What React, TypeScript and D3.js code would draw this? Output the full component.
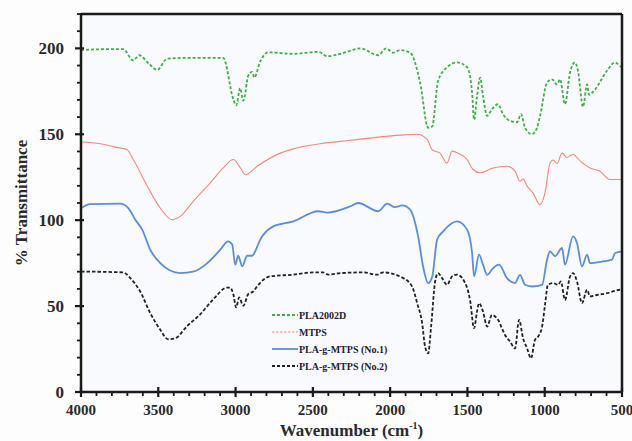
import React from "react";
import * as d3 from "d3";

const W = 632;
const H = 441;

// Series: [wavenumber, % transmittance]
const pla2002dWn = [4000, 3850, 3727, 3662, 3623, 3560, 3507, 3442, 3300, 3080, 3015, 2996, 2970, 2950, 2918, 2892, 2879, 2840, 2789, 2627, 2465, 2407, 2323, 2259, 2194, 2077, 2026, 1981, 1935, 1871, 1806, 1754, 1728, 1690, 1632, 1567, 1502, 1470, 1457, 1438, 1418, 1399, 1373, 1341, 1302, 1270, 1224, 1179, 1153, 1127, 1082, 1050, 1030, 985, 953, 920, 901, 869, 836, 804, 785, 752, 726, 713, 675, 597, 545, 513, 500];
const pla2002dT = [199, 199.5, 199.5, 193, 196, 191, 187.5, 194, 194.5, 194.5, 170.5, 166.8, 176.8, 169.5, 184, 186.3, 183, 192.5, 197.7, 196.8, 198, 195.5, 196.8, 198.5, 200, 196, 200, 197.5, 199, 197.5, 180, 153.8, 154.5, 181, 189, 191.8, 189, 174.5, 158.5, 172, 183, 172.3, 160.7, 164.6, 167.5, 161.7, 157.8, 157, 161.7, 153.8, 150, 153.8, 160.7, 180, 182, 179, 182, 167.5, 186, 191.8, 187, 166, 179, 173, 176, 187, 191.8, 189.8, 189];

const mtpsWn = [4000, 3875, 3778, 3701, 3662, 3571, 3487, 3410, 3358, 3274, 3164, 3080, 3015, 2970, 2937, 2860, 2730, 2627, 2453, 2259, 2065, 1935, 1825, 1761, 1728, 1677, 1632, 1599, 1561, 1502, 1463, 1418, 1334, 1244, 1192, 1160, 1140, 1114, 1076, 1030, 998, 966, 946, 920, 888, 856, 817, 772, 707, 643, 578, 513, 500];
const mtpsT = [145.5, 144.5, 142.5, 141, 135.3, 119.8, 107, 100.3, 102.2, 111, 121.7, 130.4, 135.3, 130.6, 126.5, 131.4, 138.3, 141.5, 144.5, 146.5, 148.5, 149.5, 150, 147, 141, 139, 133.2, 140.2, 139, 135.3, 129.5, 127.6, 130.4, 131.4, 128.5, 122.6, 124, 119.8, 115.9, 109, 116, 133.2, 135, 133, 139, 136.5, 138.4, 134.5, 130.4, 128.5, 123.7, 123.7, 123.5];

const no1Wn = [4000, 3940, 3746, 3694, 3649, 3604, 3552, 3487, 3358, 3274, 3183, 3099, 3048, 3022, 3002, 2983, 2957, 2925, 2892, 2873, 2840, 2756, 2627, 2465, 2407, 2259, 2207, 2077, 2019, 1968, 1922, 1871, 1819, 1787, 1754, 1728, 1696, 1657, 1567, 1502, 1470, 1457, 1425, 1399, 1373, 1334, 1295, 1244, 1192, 1160, 1127, 1082, 1017, 985, 966, 933, 888, 869, 817, 791, 759, 726, 707, 623, 565, 545, 500];
const no1T = [107, 109.4, 109.6, 107, 100.3, 94.5, 82.8, 75, 69.2, 70, 75, 82.8, 87.7, 85.8, 74.1, 79.3, 73.1, 79.3, 79.3, 81.9, 88.7, 96.4, 99.3, 105.2, 104.4, 108, 110, 105.2, 109.6, 107.6, 108.6, 106.2, 90.6, 73.1, 63.4, 67, 88.7, 93.5, 99.3, 94.5, 80.9, 67.3, 79.9, 74.1, 68.2, 72.1, 74.1, 66.3, 63.4, 68.2, 62.4, 61.4, 62.4, 77, 81.9, 79, 83.8, 74.1, 90.6, 86.7, 73.1, 79.9, 75, 76, 77, 80.9, 81.9];

const no2Wn = [4000, 3727, 3681, 3617, 3552, 3487, 3436, 3390, 3313, 3229, 3145, 3054, 3035, 3015, 2996, 2977, 2950, 2918, 2886, 2853, 2776, 2627, 2498, 2433, 2401, 2323, 2175, 2084, 2045, 1916, 1858, 1825, 1793, 1774, 1754, 1735, 1709, 1690, 1664, 1632, 1599, 1567, 1515, 1483, 1457, 1438, 1425, 1399, 1373, 1341, 1302, 1257, 1224, 1192, 1166, 1140, 1114, 1089, 1063, 1043, 1017, 998, 979, 946, 914, 895, 869, 836, 817, 791, 759, 726, 707, 655, 597, 559, 513, 500];
const no2T = [70.1, 69.6, 66.3, 58.5, 45.9, 36.2, 30.7, 31.3, 38.4, 45.2, 53.9, 60.8, 60.8, 57, 49.2, 55, 50.2, 57, 58.5, 62.4, 67.3, 68.3, 69.6, 69.6, 68.3, 69.2, 69.6, 68.3, 69.6, 66.3, 61.4, 51.7, 40.1, 26.4, 22.5, 38.1, 64.3, 69.2, 66.3, 62.4, 67.3, 68.3, 63.4, 53.6, 37.1, 46.8, 51.7, 46.8, 38.1, 44.8, 42, 33.2, 29.3, 25.4, 42, 31.3, 25.4, 19.6, 30.3, 32.2, 38.1, 50.8, 62.4, 63.4, 62.4, 64.3, 53.6, 67.3, 69.2, 64.3, 51.7, 59.5, 55.6, 56.6, 57.5, 58.5, 59.5, 59.5];

const seriesNames = ["PLA2002D", "MTPS", "PLA-g-MTPS (No.1)", "PLA-g-MTPS (No.2)"];
const xTickValues = [4000, 3500, 3000, 2500, 2000, 1500, 1000, 500];
const yTickValues = [0, 50, 100, 150, 200];

const styles = [
  { color: "#3fae4a", width: 1.8, dash: "3 2" },
  { color: "#f08a7c", width: 1.1, dash: "" },
  { color: "#5b8ed6", width: 1.8, dash: "" },
  { color: "#222222", width: 1.8, dash: "3.5 2" },
];
const legendDash = ["3 2", "2.5 1.5", "", "3 2"];

const serif = "'Liberation Serif', 'Times New Roman', serif";

export default function App() {
  const left = 81, right = 622, top = 14, bottom = 392;
  const x = d3.scaleLinear().domain([4000, 500]).range([left, right]);
  const y = d3.scaleLinear().domain([0, 220]).range([bottom, top]);

  const data = [
    pla2002dWn.map((w, i) => [w, pla2002dT[i]]),
    mtpsWn.map((w, i) => [w, mtpsT[i]]),
    no1Wn.map((w, i) => [w, no1T[i]]),
    no2Wn.map((w, i) => [w, no2T[i]]),
  ];
  const line = d3
    .line<number[]>()
    .x((d) => x(d[0]))
    .y((d) => y(d[1]))
    .curve(d3.curveMonotoneX);

  const xMinor = d3.range(4000, 499, -100).filter((v) => v % 500 !== 0);
  const yMinor = d3.range(0, 221, 10).filter((v) => v % 50 !== 0);

  const legendY = [315, 332, 349, 366];

  return (
    <svg width={W} height={H} style={{ position: "absolute", left: 0, top: 0 }}>
      <rect x={0} y={0} width={W} height={H} fill="#fdfdfe" />
      <rect x={left} y={top} width={right - left} height={bottom - top} fill="#f9fafd" />

      {data.map((d, i) => (
        <path
          key={i}
          d={line(d) || ""}
          fill="none"
          stroke={styles[i].color}
          strokeWidth={styles[i].width}
          strokeDasharray={styles[i].dash}
          strokeLinejoin="round"
        />
      ))}

      {/* frame */}
      <line x1={left} x2={right} y1={top} y2={top} stroke="#1a1a1a" strokeWidth={2.5} />
      <line x1={right} x2={right} y1={top} y2={bottom} stroke="#1a1a1a" strokeWidth={2.5} />
      <line x1={left} x2={left} y1={top - 1} y2={bottom + 1} stroke="#1a1a1a" strokeWidth={2.5} />
      <line x1={left - 1} x2={right + 1} y1={bottom} y2={bottom} stroke="#1a1a1a" strokeWidth={2.5} />

      {/* y ticks */}
      {yTickValues.map((v) => (
        <g key={"y" + v}>
          <line x1={left - 6} x2={left + 3} y1={y(v)} y2={y(v)} stroke="#1a1a1a" strokeWidth={2.2} />
          <text
            x={left - 17}
            y={y(v)}
            dy="0.35em"
            textAnchor="end"
            fontFamily={serif}
            fontWeight="bold"
            fontSize={17}
            fill="#2a2a2a"
          >
            {v}
          </text>
        </g>
      ))}
      {yMinor.map((v) => (
        <line key={"ym" + v} x1={left - 4} x2={left} y1={y(v)} y2={y(v)} stroke="#1a1a1a" strokeWidth={1.8} />
      ))}

      {/* x ticks */}
      {xTickValues.map((v) => (
        <g key={"x" + v}>
          <line x1={x(v)} x2={x(v)} y1={bottom - 5} y2={bottom + 5} stroke="#1a1a1a" strokeWidth={2.2} />
          <text
            x={x(v)}
            y={bottom + 23}
            textAnchor="middle"
            fontFamily={serif}
            fontWeight="bold"
            fontSize={15}
            fill="#2a2a2a"
          >
            {v}
          </text>
        </g>
      ))}
      {xMinor.map((v) => (
        <line key={"xm" + v} x1={x(v)} x2={x(v)} y1={bottom} y2={bottom + 4} stroke="#1a1a1a" strokeWidth={1.8} />
      ))}

      {/* axis titles */}
      <text
        transform={`translate(27,${(top + bottom) / 2}) rotate(-90)`}
        textAnchor="middle"
        fontFamily={serif}
        fontWeight="bold"
        fontSize={17}
        fill="#2a2a2a"
      >
        % Transmittance
      </text>
      <text
        x={(left + right) / 2}
        y={436}
        textAnchor="middle"
        fontFamily={serif}
        fontWeight="bold"
        fontSize={17}
        fill="#2a2a2a"
      >
        Wavenumber (cm
        <tspan fontSize={10} dy={-7}>-1</tspan>
        <tspan dy={7}>)</tspan>
      </text>

      {/* legend */}
      {seriesNames.map((n, i) => (
        <g key={n}>
          <line
            x1={272}
            x2={298}
            y1={legendY[i]}
            y2={legendY[i]}
            stroke={styles[i].color}
            strokeWidth={i === 1 ? 1.2 : 1.8}
            strokeDasharray={legendDash[i]}
          />
          <text
            x={299}
            y={legendY[i]}
            dy="0.35em"
            fontFamily={serif}
            fontWeight="bold"
            fontSize={10}
            fill="#1f2233"
          >
            {n}
          </text>
        </g>
      ))}
    </svg>
  );
}
